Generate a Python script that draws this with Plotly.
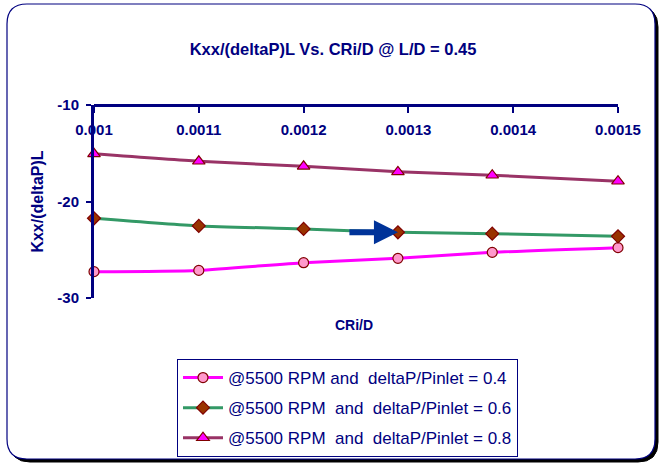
import plotly.graph_objects as go

# ---- data ----
cri_d = [0.001, 0.0011, 0.0012, 0.00129, 0.00138, 0.0015]
k_04 = [-27.27, -27.14, -26.34, -25.89, -25.27, -24.78]
k_06 = [-21.74, -22.53, -22.84, -23.19, -23.33, -23.61]
k_08 = [-15.06, -15.83, -16.35, -16.93, -17.28, -17.90]
names = ["@5500 RPM and\u00a0 deltaP/Pinlet = 0.4",
         "@5500 RPM\u00a0 and\u00a0 deltaP/Pinlet = 0.6",
         "@5500 RPM\u00a0 and\u00a0 deltaP/Pinlet = 0.8"]
x_ticks = [0.001, 0.0011, 0.0012, 0.0013, 0.0014, 0.0015]
x_tick_text = ["0.001", "0.0011", "0.0012", "0.0013", "0.0014", "0.0015"]
y_ticks = [-10, -20, -30]
y_tick_text = ["-10", "-20", "-30"]

NAVY = "#000080"
FONT = "Liberation Sans"
W, H = 661, 465
L, R, T, B = 94, 618, 105, 298


def xp(px):
    return (px - L) / (R - L)


def yp(py):
    return (B - py) / (B - T)


def rrect(x0, y0, x1, y1, r):
    pts = [
        f"M {xp(x0 + r)},{yp(y0)}",
        f"L {xp(x1 - r)},{yp(y0)}",
        f"Q {xp(x1)},{yp(y0)} {xp(x1)},{yp(y0 + r)}",
        f"L {xp(x1)},{yp(y1 - r)}",
        f"Q {xp(x1)},{yp(y1)} {xp(x1 - r)},{yp(y1)}",
        f"L {xp(x0 + r)},{yp(y1)}",
        f"Q {xp(x0)},{yp(y1)} {xp(x0)},{yp(y1 - r)}",
        f"L {xp(x0)},{yp(y0 + r)}",
        f"Q {xp(x0)},{yp(y0)} {xp(x0 + r)},{yp(y0)}",
        "Z",
    ]
    return " ".join(pts)


fig = go.Figure()
styles = [
    (k_04, "#FF00FF", dict(symbol="circle", color="#FF99CC", size=10)),
    (k_06, "#339966", dict(symbol="diamond", color="#993300", size=10)),
    (k_08, "#993366", dict(symbol="triangle-up", color="#FF00FF", size=11)),
]
for i, (ys, lc, mk) in enumerate(styles):
    fig.add_trace(go.Scatter(
        x=cri_d, y=ys, name=names[i], mode="lines+markers",
        line=dict(color=lc, width=3, shape="spline", smoothing=0.6),
        marker=dict(symbol=mk["symbol"], color=mk["color"], size=mk["size"],
                    line=dict(color="#800000", width=1.2)),
        cliponaxis=False, legendgroup=f"g{i}",
    ))

# arrow pointing at the 0.0013 point of the 0.6 series
fig.add_annotation(x=cri_d[3], y=k_06[3], ax=-50, ay=0, xref="x", yref="y",
                   showarrow=True, arrowhead=2, arrowsize=0.8, arrowwidth=6,
                   arrowcolor="#003399", text="")

# frame with shadow
fig.add_shape(type="path", xref="paper", yref="paper", layer="below",
              path=rrect(10, 7, 658, 462, 20), fillcolor="black",
              line=dict(color="black", width=1))
fig.add_shape(type="path", xref="paper", yref="paper", layer="below",
              path=rrect(7, 4, 655, 459, 20), fillcolor="white",
              line=dict(color=NAVY, width=1.2))

fig.add_annotation(text="CRi/D", xref="paper", yref="paper",
                   x=xp(354), y=yp(325), xanchor="center", yanchor="middle",
                   showarrow=False,
                   font=dict(family=FONT, size=14, color=NAVY, weight="bold"))

fig.update_layout(
    width=W, height=H,
    margin=dict(l=L, r=W - R, t=T, b=H - B, autoexpand=False),
    paper_bgcolor="white", plot_bgcolor="rgba(0,0,0,0)",
    title=dict(text="Kxx/(deltaP)L Vs. CRi/D @ L/D = 0.45",
               x=333 / W, xanchor="center", xref="container",
               y=1 - 49 / H, yanchor="middle", yref="container",
               font=dict(family=FONT, size=16.5, color=NAVY, weight="bold")),
    xaxis=dict(range=[0.001, 0.0015], anchor="free", position=1, side="bottom",
               tickvals=x_ticks, ticktext=x_tick_text,
               showline=True, linecolor=NAVY, linewidth=3,
               ticks="outside", ticklen=6, tickwidth=2, tickcolor=NAVY,
               ticklabelstandoff=4,
               showgrid=False, zeroline=False,
               tickfont=dict(family=FONT, size=15, color=NAVY, weight="bold")),
    yaxis=dict(range=[-30, -10], tickvals=y_ticks, ticktext=y_tick_text,
               showline=True, linecolor=NAVY, linewidth=3,
               ticks="outside", ticklen=5, tickwidth=2, tickcolor=NAVY,
               ticklabelstandoff=4,
               showgrid=False, zeroline=False,
               tickfont=dict(family=FONT, size=15, color=NAVY, weight="bold"),
               title=dict(text="Kxx/(deltaP)L", standoff=10,
                          font=dict(family=FONT, size=16, color=NAVY, weight="bold"))),
    legend=dict(x=xp(177), y=yp(359), xanchor="left", yanchor="top",
                bgcolor="white", bordercolor=NAVY, borderwidth=1,
                tracegroupgap=5, itemwidth=40,
                font=dict(family=FONT, size=17, color=NAVY)),
    showlegend=True,
)

fig.write_html("out.html", config={"displayModeBar": False},
               post_script="document.body.style.margin='0';")
